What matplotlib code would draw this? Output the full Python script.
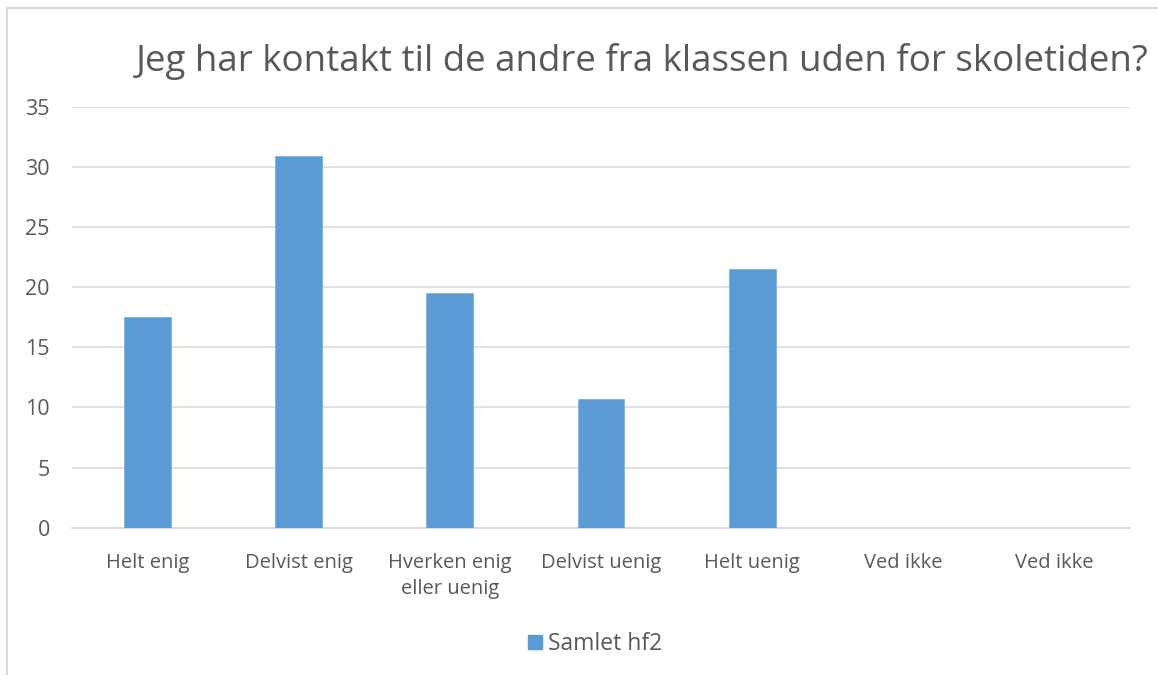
import matplotlib
matplotlib.use("Agg")
import matplotlib.pyplot as plt
from matplotlib.lines import Line2D
from matplotlib.patches import Patch

categories = ["Helt enig", "Delvist enig", "Hverken enig\neller uenig", "Delvist uenig",
              "Helt uenig", "Ved ikke", "Ved ikke"]
values = [17.5, 30.9, 19.5, 10.7, 21.5, 0, 0]
series_name = "Samlet hf2"
title = "Jeg har kontakt til de andre fra klassen uden for skoletiden?"
yticks = [0, 5, 10, 15, 20, 25, 30, 35]

bar_color = "#5B9BD5"
text_color = "#595959"
grid_color = "#D9D9D9"

plt.rcParams['font.family'] = ['Open Sans', 'DejaVu Sans']

W, H = 1158, 675
fig = plt.figure(figsize=(W / 100, H / 100), dpi=100)
ax = fig.add_axes([72 / W, 1 - 527.7 / H, (1130 - 72) / W, (527.7 - 106.7) / H])

x = list(range(len(categories)))
ax.bar(x, values, width=0.31, color=bar_color, edgecolor="#7EB0E0", linewidth=0.6, zorder=3)
ax.set_xlim(-0.5, len(categories) - 0.5)
ax.set_ylim(0, 35)
ax.set_yticks(yticks)
ax.set_yticklabels([str(v) for v in yticks])
ax.set_xticks(x)
ax.set_xticklabels(categories, linespacing=1.45)
ax.tick_params(axis='y', length=0, pad=16, labelsize=15.5, labelcolor=text_color)
ax.tick_params(axis='x', length=0, pad=18, labelsize=14.5, labelcolor=text_color)
ax.yaxis.grid(True, color=grid_color, linewidth=1.1, zorder=0)
ax.set_axisbelow(True)
for s in ["top", "right", "left"]:
    ax.spines[s].set_visible(False)
ax.spines["bottom"].set_color(grid_color)
ax.spines["bottom"].set_linewidth(1.3)

fig.text(642 / W, 1 - 62 / H, title, ha="center", va="center", fontsize=26.5, color=text_color)

leg = fig.legend(handles=[Patch(color=bar_color, label=series_name)], loc="center",
                 bbox_to_anchor=(595 / W, 1 - 644 / H), frameon=False, fontsize=16.5,
                 handlelength=0.6, handleheight=0.6, handletextpad=0.25)
for t in leg.get_texts():
    t.set_color(text_color)

fig.add_artist(Line2D([7 / W, 1], [1 - 8 / H, 1 - 8 / H], color=grid_color, linewidth=1.5,
                      transform=fig.transFigure))
fig.add_artist(Line2D([7 / W, 7 / W], [0, 1 - 8 / H], color=grid_color, linewidth=1.5,
                      transform=fig.transFigure))

fig.savefig("out.png", dpi=100)
